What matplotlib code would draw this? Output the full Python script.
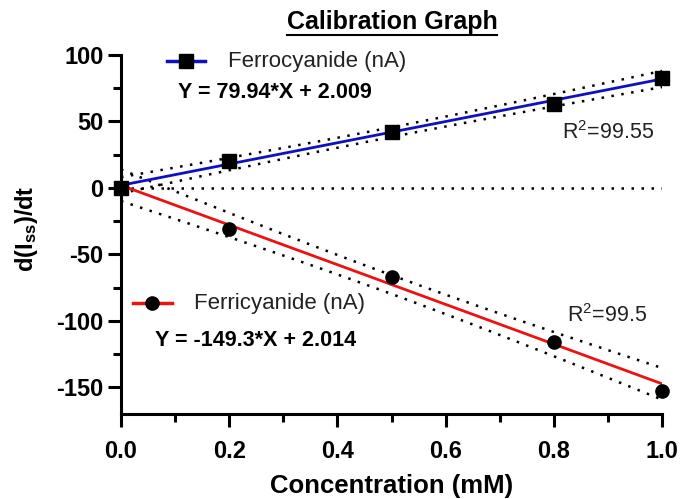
import numpy as np
import matplotlib
matplotlib.use("Agg")
import matplotlib.pyplot as plt
from matplotlib.lines import Line2D

# ---- data ----
conc = [0.0, 0.2, 0.5, 0.8, 1.0]
ferro = [0.0, 20.5, 42.0, 63.0, 82.5]
ferri = [0.0, -30.5, -67.0, -115.5, -152.5]
ferro_fit = (79.94, 2.009)
ferri_fit = (-149.3, 2.014)
ferro_r2 = "99.55"
ferri_r2 = "99.5"
xticks = [0.0, 0.2, 0.4, 0.6, 0.8, 1.0]
yticks = [-150, -100, -50, 0, 50, 100]

FONT = ['Liberation Sans', 'DejaVu Sans']
plt.rcParams['font.family'] = FONT
plt.rcParams['axes.unicode_minus'] = False
plt.rcParams['mathtext.fontset'] = 'custom'
plt.rcParams['mathtext.rm'] = 'Liberation Sans'
plt.rcParams['mathtext.bf'] = 'Liberation Sans:bold'

W, H = 684, 499
fig = plt.figure(figsize=(W / 100, H / 100), dpi=100)
L, R, T, B = 121, 662, 55, 414
ax = fig.add_axes([L / W, (H - B) / H, (R - L) / W, (B - T) / H])

def fx(px):
    return (px - L) / (R - L)

def fy(py):
    return (B - py) / (B - T)

xs = np.linspace(0, 1, 200)

def band(x, y, fit):
    x = np.asarray(x); y = np.asarray(y)
    m, b = fit
    res = y - (m * x + b)
    n = len(x)
    s = np.sqrt(np.sum(res ** 2) / (n - 2))
    t = 3.182
    se = s * np.sqrt(1 / n + (xs - x.mean()) ** 2 / np.sum((x - x.mean()) ** 2))
    yf = m * xs + b
    return yf, yf - t * se, yf + t * se

for y, fit, color, mk, ms in [(ferro, ferro_fit, '#1010c0', 's', 10),
                              (ferri, ferri_fit, '#ee1111', 'o', 9.5)]:
    yf, lo, hi = band(conc, y, fit)
    ax.plot(xs, lo, color='black', ls=(0, (1, 3)), lw=1.8, zorder=2)
    ax.plot(xs, hi, color='black', ls=(0, (1, 3)), lw=1.8, zorder=2)
    ax.plot(xs, yf, color=color, lw=2.0, zorder=3)
    ax.plot(conc, y, ls='none', marker=mk, ms=ms, color='black', zorder=4, clip_on=False)

ax.plot([0, 1], [0, 0], color='black', ls=(0, (1, 3)), lw=1.8, zorder=2)

ax.set_xlim(0, 1)
ax.set_ylim(-170, 100)
ax.set_xticks(xticks)
ax.set_xticklabels([f"{v:.1f}" for v in xticks])
ax.set_yticks(yticks)
ax.set_yticklabels([str(v) for v in yticks])
ax.set_xticks(np.arange(0.1, 1.0, 0.2), minor=True)
ax.set_yticks([-125, -75, -25, 25, 75], minor=True)
for s in ['top', 'right']:
    ax.spines[s].set_visible(False)
for s in ['left', 'bottom']:
    ax.spines[s].set_linewidth(2.2)
ax.tick_params(which='major', width=2.2, length=9.5, labelsize=17)
ax.tick_params(axis='x', which='major', pad=9)
ax.tick_params(axis='y', which='major', pad=3)
ax.tick_params(which='minor', width=2.2, length=6)
for lab in ax.get_xticklabels() + ax.get_yticklabels():
    lab.set_fontweight('bold')

ax.set_xlabel('Concentration (mM)', fontsize=18.5, fontweight='bold')
ax.xaxis.set_label_coords(fx(392), fy(486))
ax.xaxis.label.set_va('center')
ax.set_ylabel(r'$\mathbf{d(I_{ss})/dt}$', fontsize=17)
ax.yaxis.set_label_coords(fx(27), fy(229))
ax.yaxis.label.set_va('center')

# legend-like annotations
tc = '#222222'
fs = 16
fe = 15.5
ax.add_line(Line2D([fx(167), fx(205)], [fy(61), fy(61)], transform=ax.transAxes,
                   color='#1010c0', lw=2.5, clip_on=False))
ax.plot([fx(186)], [fy(61)], transform=ax.transAxes, marker='s', ms=10, color='black', clip_on=False)
ax.text(fx(228), fy(61), 'Ferrocyanide (nA)', transform=ax.transAxes, fontsize=fs,
        va='center', ha='left', color=tc)
ax.text(fx(178), fy(93), 'Y = 79.94*X + 2.009', transform=ax.transAxes, fontsize=fe,
        va='center', ha='left', fontweight='bold', color='black')
ax.text(fx(562), fy(133), r'R$^{\mathrm{2}}$=' + ferro_r2, transform=ax.transAxes, fontsize=15.5,
        va='center', ha='left', color=tc)

ax.add_line(Line2D([fx(133), fx(172)], [fy(303), fy(303)], transform=ax.transAxes,
                   color='#ee1111', lw=2.5, clip_on=False))
ax.plot([fx(152)], [fy(303)], transform=ax.transAxes, marker='o', ms=9.5, color='black', clip_on=False)
ax.text(fx(194), fy(303), 'Ferricyanide (nA)', transform=ax.transAxes, fontsize=fs,
        va='center', ha='left', color=tc)
ax.text(fx(155), fy(341), 'Y = -149.3*X + 2.014', transform=ax.transAxes, fontsize=fe,
        va='center', ha='left', fontweight='bold', color='black')
ax.text(fx(567), fy(316), r'R$^{\mathrm{2}}$=' + ferri_r2, transform=ax.transAxes, fontsize=15.5,
        va='center', ha='left', color=tc)

# title with underline
title = fig.text(392 / W, 1 - 22 / H, 'Calibration Graph', ha='center', va='center',
                 fontsize=18, fontweight='bold')
fig.canvas.draw()
bb = title.get_window_extent(renderer=fig.canvas.get_renderer())
uy = (bb.y0 - 0.5) / H
fig.add_artist(Line2D([bb.x0 / W, bb.x1 / W], [uy, uy], transform=fig.transFigure,
                      color='black', lw=1.5))

fig.savefig('out.png', dpi=100)
